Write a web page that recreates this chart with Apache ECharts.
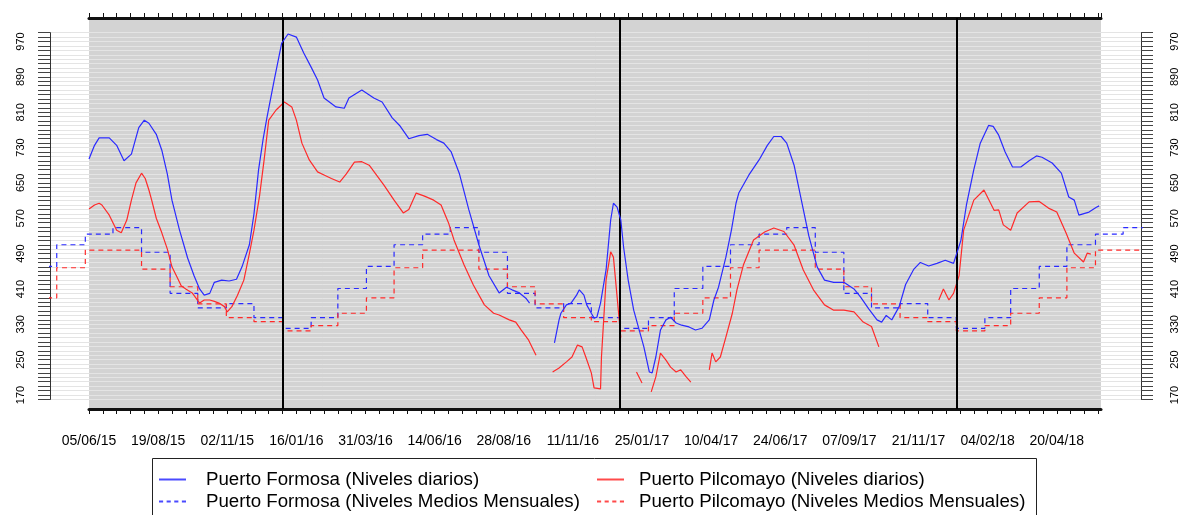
<!DOCTYPE html>
<html><head><meta charset="utf-8">
<script src="https://cdn.jsdelivr.net/npm/echarts@6/dist/echarts.min.js"></script>
<style>html,body{margin:0;padding:0;background:#fff}#c{width:1180px;height:515px}</style>
</head><body><div id="c"></div>
<script>
const nameFD = 'Puerto Formosa (Niveles diarios)';
const nameFM = 'Puerto Formosa (Niveles Medios Mensuales)';
const namePD = 'Puerto Pilcomayo (Niveles diarios)';
const namePM = 'Puerto Pilcomayo (Niveles Medios Mensuales)';

const xStart = '2015-06-05';
const xEnd = '2018-06-07';
const xTickLabels = ['05/06/15','19/08/15','02/11/15','16/01/16','31/03/16','14/06/16','28/08/16','11/11/16','25/01/17','10/04/17','24/06/17','07/09/17','21/11/17','04/02/18','20/04/18'];
const yTickLabels = [170,250,330,410,490,570,650,730,810,890,970];
const yearLines = ['2016-01-01','2017-01-01','2018-01-01'];

// monthly mean levels (Jan..Dec)
const formosaMonthly = [321,345,411,461,510,534,549,493,400,367,377,345];
const pilcomayoMonthly = [315,327,355,390,458,498,498,455,415,376,345,336];
const monthlyFrom = '2015-04-01';
const monthlyTo = '2018-08-01';

const formosaDaily = [
['2015-06-05',704],['2015-06-11',735],['2015-06-16',752],['2015-06-27',752],['2015-07-05',735],['2015-07-13',700],['2015-07-21',715],['2015-07-29',775],['2015-08-04',792],['2015-08-09',785],['2015-08-17',760],['2015-08-23',724],['2015-08-29',670],['2015-09-03',611],['2015-09-11',545],['2015-09-20',480],['2015-09-27',440],['2015-10-03',410],['2015-10-08',396],['2015-10-14',400],['2015-10-19',425],['2015-10-27',430],['2015-11-04',428],['2015-11-12',432],['2015-11-18',460],['2015-11-26',510],['2015-12-01',580],['2015-12-06',680],['2015-12-11',750],['2015-12-15',797],['2015-12-23',883],['2015-12-31',966],['2016-01-07',987],['2016-01-16',980],['2016-01-24',944],['2016-02-01',912],['2016-02-08',883],['2016-02-15',842],['2016-02-28',822],['2016-03-08',819],['2016-03-13',842],['2016-03-27',860],['2016-04-09',842],['2016-04-18',833],['2016-04-29',797],['2016-05-07',780],['2016-05-17',750],['2016-05-28',757],['2016-06-06',760],['2016-06-16',748],['2016-06-24',740],['2016-07-02',720],['2016-07-11',670],['2016-07-21',590],['2016-08-01',510],['2016-08-12',440],['2016-08-23',401],['2016-08-31',414],['2016-09-06',408],['2016-09-14',401],['2016-09-21',389],['2016-09-25',378],
['2016-10-10',null],
['2016-10-22',288],['2016-10-27',340],['2016-10-29',355],['2016-11-04',374],['2016-11-09',378],['2016-11-15',396],['2016-11-18',408],['2016-11-23',396],['2016-11-26',374],['2016-12-01',355],['2016-12-04',344],['2016-12-07',346],['2016-12-11',378],['2016-12-17',453],['2016-12-22',566],['2016-12-25',604],['2016-12-29',595],['2017-01-02',566],['2017-01-05',505],['2017-01-10',430],['2017-01-16',362],['2017-01-21',324],['2017-01-27',279],['2017-02-02',222],['2017-02-05',220],['2017-02-09',256],['2017-02-14',317],['2017-02-20',340],['2017-02-25',346],['2017-03-03',333],['2017-03-09',328],['2017-03-17',324],['2017-03-24',317],['2017-03-31',321],['2017-04-08',340],['2017-04-13',385],['2017-04-18',414],['2017-04-26',482],['2017-05-02',543],['2017-05-07',604],['2017-05-10',627],['2017-05-21',668],['2017-06-01',702],['2017-06-10',735],['2017-06-17',755],['2017-06-25',755],['2017-07-01',740],['2017-07-09',690],['2017-07-16',620],['2017-07-25',530],['2017-08-03',460],['2017-08-11',430],['2017-08-21',425],['2017-09-01',425],['2017-09-12',410],['2017-09-19',392],['2017-09-28',365],['2017-10-07',340],['2017-10-12',335],['2017-10-17',350],['2017-10-23',340],['2017-10-31',370],['2017-11-07',420],['2017-11-16',455],['2017-11-23',470],['2017-12-02',462],['2017-12-11',468],['2017-12-20',475],['2017-12-29',468],['2018-01-06',520],['2018-01-12',600],['2018-01-20',680],['2018-01-27',740],['2018-02-05',780],['2018-02-10',778],['2018-02-16',758],['2018-02-23',720],['2018-03-03',686],['2018-03-12',686],['2018-03-21',700],['2018-03-29',711],['2018-04-04',708],['2018-04-15',695],['2018-04-25',672],['2018-05-03',618],['2018-05-09',611],['2018-05-14',577],['2018-05-25',584],['2018-06-02',595],['2018-06-05',598]
];

const pilcomayoDaily = [
['2015-06-05',591],['2015-06-11',600],['2015-06-16',604],['2015-06-19',600],['2015-06-27',577],['2015-07-05',543],['2015-07-10',537],['2015-07-16',566],['2015-07-21',611],['2015-07-26',650],['2015-08-01',672],['2015-08-05',660],['2015-08-09',634],['2015-08-12',611],['2015-08-17',570],['2015-08-23',537],['2015-08-29',500],['2015-09-03',460],['2015-09-09',435],['2015-09-13',417],['2015-09-18',410],['2015-09-25',401],['2015-10-03',378],['2015-10-08',385],['2015-10-14',385],['2015-10-19',382],['2015-10-24',378],['2015-10-30',370],['2015-11-02',358],['2015-11-07',370],['2015-11-13',395],['2015-11-20',430],['2015-11-26',490],['2015-12-01',543],['2015-12-07',620],['2015-12-12',702],['2015-12-17',792],['2015-12-25',815],['2016-01-03',833],['2016-01-11',822],['2016-01-16',792],['2016-01-22',740],['2016-01-30',702],['2016-02-08',675],['2016-02-15',668],['2016-02-23',660],['2016-03-03',652],['2016-03-10',670],['2016-03-19',697],['2016-03-27',698],['2016-04-04',690],['2016-04-13',665],['2016-04-20',645],['2016-05-01',611],['2016-05-11',582],['2016-05-17',590],['2016-05-25',627],['2016-06-03',620],['2016-06-13',611],['2016-06-21',600],['2016-06-29',560],['2016-07-05',521],['2016-07-16',464],['2016-07-26',419],['2016-08-07',374],['2016-08-17',355],['2016-08-23',351],['2016-09-03',340],['2016-09-10',335],['2016-09-16',317],['2016-09-24',294],['2016-10-02',260],
['2016-10-10',null],
['2016-10-20',222],['2016-10-27',231],['2016-11-04',245],['2016-11-10',256],['2016-11-16',283],['2016-11-21',279],['2016-11-25',256],['2016-12-01',220],['2016-12-04',186],['2016-12-11',184],['2016-12-12',256],['2016-12-17',430],['2016-12-22',494],['2016-12-25',482],['2016-12-29',392],['2017-01-02',300],
['2017-01-10',null],
['2017-01-19',222],['2017-01-25',197],
['2017-01-30',null],
['2017-02-04',177],['2017-02-09',211],['2017-02-14',265],['2017-02-20',249],['2017-02-25',233],['2017-03-03',222],['2017-03-08',227],['2017-03-14',211],['2017-03-19',199],
['2017-03-30',null],
['2017-04-08',227],['2017-04-11',265],['2017-04-15',245],['2017-04-20',256],['2017-04-26',301],['2017-05-03',355],['2017-05-08',408],['2017-05-15',464],['2017-05-26',521],['2017-06-07',539],['2017-06-17',548],['2017-06-28',540],['2017-07-09',509],['2017-07-19',453],['2017-07-30',408],['2017-08-11',374],['2017-08-21',362],['2017-09-01',362],['2017-09-12',358],['2017-09-22',335],['2017-10-01',325],['2017-10-09',279],
['2017-11-15',null],
['2017-12-13',385],['2017-12-18',410],['2017-12-24',385],['2017-12-29',400],['2018-01-04',440],['2018-01-09',543],['2018-01-20',611],['2018-01-31',634],['2018-02-11',588],['2018-02-16',589],['2018-02-21',555],['2018-03-01',543],['2018-03-08',582],['2018-03-21',607],['2018-04-01',608],['2018-04-11',593],['2018-04-20',584],['2018-04-30',537],['2018-05-09',491],['2018-05-19',471],['2018-05-23',491],['2018-05-27',489]
];

// ---------- helpers ----------
const DAY = 86400000;
const toMs = s => { const p = s.split('-').map(Number); return Date.UTC(p[0], p[1]-1, p[2]); };
const pad = n => (n < 10 ? '0' : '') + n;
const fmtDate = ms => { const d = new Date(ms); return pad(d.getUTCDate()) + '/' + pad(d.getUTCMonth()+1) + '/' + pad(d.getUTCFullYear() % 100); };
const daily = arr => arr.map(p => [toMs(p[0]), p[1]]);
function monthlySteps(vals) {
  const out = [];
  const a = toMs(monthlyFrom), b = toMs(monthlyTo);
  let d = new Date(a);
  while (d.getTime() <= b) {
    const m = d.getUTCMonth();
    const t = d.getTime();
    out.push([t, t === b ? vals[(m + 11) % 12] : vals[m]]);
    d = new Date(Date.UTC(d.getUTCFullYear(), m + 1, 1));
  }
  return out;
}

// ---------- layout ----------
const plotL = 89, plotR = 1101, plotT = 18, plotB = 409;
const outerL = 50, outerR = 1141;
const y170 = 395, y970 = 41.5;
const ppu = (y170 - y970) / 800;
const yTickMin = 160, yTickMax = 990;
const gBTop = y170 - (yTickMax - 170) * ppu;
const gBBot = y170 + (170 - yTickMin) * ppu;
const yMinA = 170 - (plotB - y170) / ppu;
const yMaxA = 170 + (y170 - plotT) / ppu;
const xMin = toMs(xStart), xMax = toMs(xEnd);
const ppms = (plotR - plotL) / (xMax - xMin);
const xMinB = xMin - (plotL - outerL) / ppms;
const xMaxB = xMax + (outerR - plotR) / ppms;

const chart = echarts.init(document.getElementById('c'), null, {renderer: 'canvas'});
const axisCol = '#111';
const font = 'Liberation Sans, Arial, Helvetica, sans-serif';
const blue = '#2a2aff', red = '#ff2a2a';
const solidIcon = 'rect';
const dashIcon = 'path://M0,0h4v2h-4zM7.4,0h4v2h-4zM14.8,0h4v2h-4zM22.2,0h4v2h-4z';

function legendItem(name, icon, color, left, top, padLeft) {
  return {data: [name], left: left, top: top, orient: 'horizontal', icon: icon,
    itemWidth: 27, itemHeight: 2, selectedMode: false, symbolKeepAspect: false,
    itemStyle: {color: color, borderWidth: 0, borderColor: color},
    textStyle: {fontSize: 18.7, color: '#000', fontFamily: font, padding: [0, 0, 0, padLeft]}};
}

const option = {
  animation: false,
  textStyle: {fontFamily: font},
  grid: [
    {left: plotL, top: plotT, width: plotR - plotL, height: plotB - plotT, show: true, backgroundColor: '#d3d3d3', borderWidth: 0},
    {left: outerL, top: gBTop, width: outerR - outerL, height: gBBot - gBTop, show: false}
  ],
  xAxis: [
    {gridIndex: 0, type: 'value', min: xMin, max: xMax, interval: 15 * DAY, position: 'bottom',
     axisLine: {lineStyle: {color: axisCol, width: 3}},
     axisTick: {length: 5, lineStyle: {color: axisCol, width: 1}},
     axisLabel: {fontSize: 14, color: '#000', margin: 25, fontFamily: font,
       showMinLabel: true, showMaxLabel: false,
       formatter: v => { const s = fmtDate(v); return xTickLabels.indexOf(s) >= 0 ? s : ''; }},
     splitLine: {show: false}},
    {gridIndex: 0, type: 'value', min: xMin, max: xMax, interval: 15 * DAY, position: 'top',
     axisLine: {lineStyle: {color: axisCol, width: 3}},
     axisTick: {length: 5, lineStyle: {color: axisCol, width: 1}},
     axisLabel: {show: false}, splitLine: {show: false}},
    {gridIndex: 1, type: 'value', min: xMinB, max: xMaxB, show: false}
  ],
  yAxis: [
    {gridIndex: 0, type: 'value', min: yMinA, max: yMaxA, show: false},
    {gridIndex: 1, type: 'value', min: yTickMin, max: yTickMax, interval: 10, position: 'left',
     axisLine: {show: true, lineStyle: {color: '#333', width: 1}},
     axisTick: {show: true, length: 12, lineStyle: {color: '#444', width: 1}},
     axisLabel: {rotate: 90, fontSize: 11, color: '#000', margin: 24, fontFamily: font,
       formatter: v => yTickLabels.indexOf(Math.round(v)) >= 0 ? String(Math.round(v)) : ''},
     splitLine: {show: true, lineStyle: {color: '#e4e4e4', width: 1}}},
    {gridIndex: 1, type: 'value', min: yTickMin, max: yTickMax, interval: 10, position: 'right',
     axisLine: {show: true, lineStyle: {color: '#333', width: 1}},
     axisTick: {show: true, length: 12, lineStyle: {color: '#444', width: 1}},
     axisLabel: {rotate: 90, fontSize: 11, color: '#000', margin: 28, fontFamily: font,
       formatter: v => yTickLabels.indexOf(Math.round(v)) >= 0 ? String(Math.round(v)) : ''},
     splitLine: {show: false}}
  ],
  legend: [
    legendItem(nameFD, solidIcon, '#4a4aff', 154, 465, 15),
    legendItem(nameFM, dashIcon, '#4a4aff', 154, 487, 15),
    legendItem(namePD, solidIcon, '#ff4a4a', 592, 465, 10),
    legendItem(namePM, dashIcon, '#ff4a4a', 592, 487, 10)
  ],
  graphic: [
    {type: 'rect', silent: true, shape: {x: 152.5, y: 458.5, width: 884, height: 70},
     style: {fill: 'none', stroke: '#222', lineWidth: 1}}
  ],
  series: [
    {name: nameFM, type: 'line', xAxisIndex: 2, yAxisIndex: 1, step: 'end', symbol: 'none',
     data: monthlySteps(formosaMonthly), lineStyle: {color: blue, width: 1.2, type: [5, 4]}, itemStyle: {color: blue}, z: 3},
    {name: namePM, type: 'line', xAxisIndex: 2, yAxisIndex: 1, step: 'end', symbol: 'none',
     data: monthlySteps(pilcomayoMonthly), lineStyle: {color: red, width: 1.2, type: [5, 4]}, itemStyle: {color: red}, z: 3},
    {name: namePD, type: 'line', xAxisIndex: 0, yAxisIndex: 0, symbol: 'none', connectNulls: false,
     data: daily(pilcomayoDaily), lineStyle: {color: red, width: 1.2}, itemStyle: {color: red}, z: 4},
    {name: nameFD, type: 'line', xAxisIndex: 0, yAxisIndex: 0, symbol: 'none', connectNulls: false,
     data: daily(formosaDaily), lineStyle: {color: blue, width: 1.2}, itemStyle: {color: blue}, z: 5,
     markLine: {silent: true, symbol: ['none', 'none'], label: {show: false},
       lineStyle: {color: '#000', width: 2, type: 'solid'},
       data: yearLines.map(d => ({xAxis: toMs(d)}))}}
  ]
};
chart.setOption(option);
</script></body></html>
